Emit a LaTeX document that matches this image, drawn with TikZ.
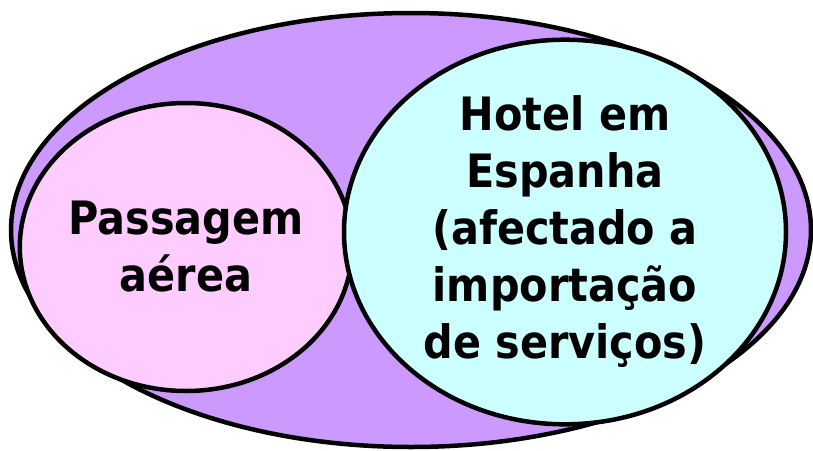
\documentclass[tikz,border=0pt]{standalone}
\usepackage{fontspec}
\setmainfont{DejaVu Sans Condensed}
\usepackage{tikz}
\usetikzlibrary{shapes.geometric}

\definecolor{lila}{RGB}{204,153,255}
\definecolor{rosa}{RGB}{255,204,255}
\definecolor{ciano}{RGB}{204,255,255}

\begin{document}
\begin{tikzpicture}[x=1pt, y=-1pt,
  every node/.style={font=\bfseries\fontsize{46}{57}\selectfont},
  conjunto/.style={ellipse, draw=black, line width=4.5pt, inner sep=0pt, align=center}]
  \useasboundingbox (0,0) rectangle (813,450);

  % Outer set
  \node[conjunto, fill=lila, minimum width=800pt, minimum height=434pt] (total) at (411,230) {};

  % Air ticket
  \node[conjunto, fill=rosa, minimum width=318pt, minimum height=288pt] (passagem) at (186,247)
    {Passagem\\a\'erea};

  % Hotel
  \node[conjunto, fill=ciano, minimum width=442pt, minimum height=345pt] (hotel) at (565,232)
    {Hotel em\\Espanha\\(afectado a\\importa\c{c}\~ao\\de servi\c{c}os)};
\end{tikzpicture}
\end{document}
